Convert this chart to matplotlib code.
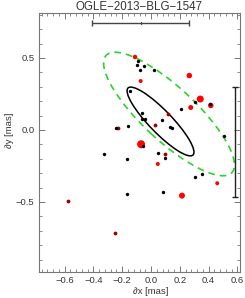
import matplotlib
matplotlib.use("Agg")
import matplotlib.pyplot as plt
from matplotlib.patches import Ellipse
from matplotlib.ticker import MultipleLocator, FuncFormatter

# ---- data ----
title = "OGLE\u22122013\u2212BLG\u22121547"
xlabel = "\u2202x [mas]"
ylabel = "\u2202y [mas]"

black_x = [-0.090, -0.094, -0.049, -0.074, 0.019, -0.146, 0.306, 0.413, 0.208, -0.065,
           -0.060, -0.045, 0.076, 0.132, 0.144, -0.158, -0.240, 0.510, -0.053, -0.326,
           0.049, 0.099, -0.169, 0.352, 0.306, 0.081, -0.169]
black_y = [0.476, 0.448, 0.444, 0.415, 0.415, 0.271, 0.191, 0.181, 0.146, 0.120,
           0.075, 0.075, 0.066, 0.023, 0.016, 0.030, 0.017, -0.040, -0.111, -0.169,
           -0.158, -0.197, -0.201, -0.306, -0.328, -0.428, -0.444]

red_x = [-0.111, -0.072, 0.266, 0.342, 0.415, 0.276, -0.069, 0.047, 0.460, 0.215]
red_y = [0.507, 0.340, 0.378, 0.215, 0.170, 0.156, -0.099, -0.236, -0.370, -0.456]
red_weight = [4.5, 4.0, 5.5, 7.0, 5.5, 5.0, 8.0, 4.0, 4.0, 6.0]

dred_x = [0.115, 0.028, -0.229, 0.099, -0.574, -0.248]
dred_y = [0.109, 0.033, 0.016, -0.168, -0.490, -0.717]

# ellipses: center x, center y, semi-major, semi-minor, angle (deg)
ell_black = (0.066, 0.059, 0.324, 0.078, -45.9)
ell_green = (0.125, 0.111, 0.597, 0.185, -43.0)

# error bars (scale bars)
hbar_x, hbar_y, hbar_err = -0.072, 0.745, 0.336
vbar_x, vbar_y, vbar_err = 0.583, -0.083, 0.382

xlim = (-0.778, 0.618)
ylim = (-0.983, 0.8125)

# ---- figure ----
W, H = 245, 298
fig = plt.figure(figsize=(W / 100, H / 100), dpi=100)
ax_l, ax_r, ax_t, ax_b = 39, 240, 13, 271.5
ax = fig.add_axes([ax_l / W, 1 - ax_b / H, (ax_r - ax_l) / W, (ax_b - ax_t) / H])
ax.set_xlim(*xlim)
ax.set_ylim(*ylim)

fam = ["Liberation Sans", "DejaVu Sans"]
tc = "#333333"

def px2s(d):
    return (d * 0.72) ** 2

ax.scatter(red_x, red_y, s=[px2s(d) for d in red_weight], c="#ff0000",
           linewidths=0, zorder=3)
ax.scatter(dred_x, dred_y, s=px2s(3.8), c="#a00000", linewidths=0, zorder=3)
ax.scatter(black_x, black_y, s=px2s(3.4), c="#000000", linewidths=0, zorder=4)

cx, cy, a, b, ang = ell_green
ax.add_patch(Ellipse((cx, cy), 2 * a, 2 * b, angle=ang, fill=False,
                     edgecolor="#2ad42a", linewidth=1.2, linestyle=(0, (4, 3)), zorder=2))
cx, cy, a, b, ang = ell_black
ax.add_patch(Ellipse((cx, cy), 2 * a, 2 * b, angle=ang, fill=False,
                     edgecolor="black", linewidth=1.1, zorder=2))

ax.errorbar([hbar_x], [hbar_y], xerr=[hbar_err], fmt="none", ecolor="#444444",
            elinewidth=1.0, capsize=2.2, capthick=1.0, zorder=5)
ax.plot([hbar_x, hbar_x], [hbar_y - 0.006, hbar_y + 0.006], color="#444444", lw=0.8, zorder=5)
ax.errorbar([vbar_x], [vbar_y], yerr=[vbar_err], fmt="none", ecolor="#222222",
            elinewidth=1.0, capsize=2.5, capthick=1.0, zorder=5)

fmt = FuncFormatter(lambda v, p: f"{v:.1f}".replace("-", "\u2212"))
ax.xaxis.set_major_locator(MultipleLocator(0.2))
ax.xaxis.set_minor_locator(MultipleLocator(0.04))
ax.yaxis.set_major_locator(MultipleLocator(0.5))
ax.yaxis.set_minor_locator(MultipleLocator(0.1))
ax.xaxis.set_major_formatter(fmt)
ax.yaxis.set_major_formatter(fmt)
ax.tick_params(which="both", direction="in", top=True, right=True,
               color="#777777", labelcolor=tc, labelsize=6.8, pad=3.3)
ax.tick_params(which="major", length=4.5, width=0.7)
ax.tick_params(which="minor", length=2.2, width=0.6)
for t in ax.get_xticklabels() + ax.get_yticklabels():
    t.set_family(fam)
for sp in ax.spines.values():
    sp.set_color("#777777")
    sp.set_linewidth(0.8)

ax.set_title(title, fontsize=8.3, color=tc, family=fam, pad=2.5)
ax.set_xlabel(xlabel, fontsize=6.8, color=tc, family=fam)
ax.set_ylabel(ylabel, fontsize=6.8, color=tc, family=fam)
ax.xaxis.set_label_coords(((151 - ax_l)) / (ax_r - ax_l), (ax_b - 292) / (ax_b - ax_t))
ax.yaxis.set_label_coords((10 - ax_l) / (ax_r - ax_l), (ax_b - 130) / (ax_b - ax_t))
ax.xaxis.label.set_va("center")
ax.yaxis.label.set_va("center")

fig.savefig("out.png", dpi=100)
